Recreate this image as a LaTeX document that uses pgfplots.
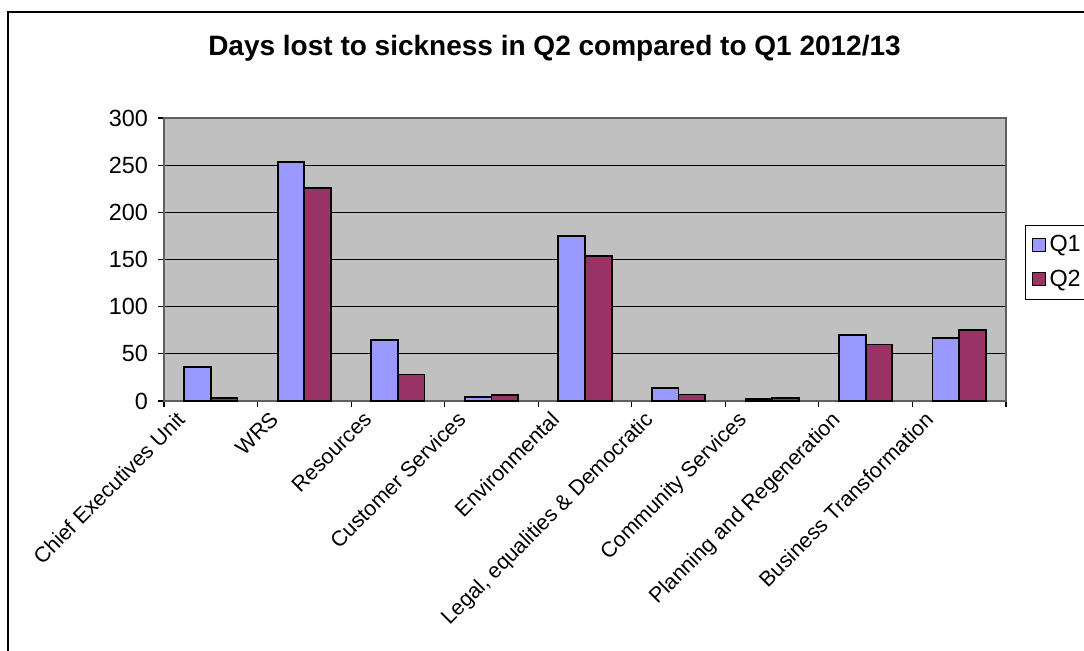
\documentclass[border=0pt]{standalone}
\usepackage{fontspec}
\setmainfont{Liberation Sans}
\usepackage{pgfplots}
\pgfplotsset{compat=1.18}
\definecolor{qone}{HTML}{9999FF}
\definecolor{qtwo}{HTML}{993366}
\definecolor{plotbg}{HTML}{C0C0C0}
\definecolor{axisgray}{HTML}{606060}

\begin{document}
\begin{tikzpicture}
\useasboundingbox (-82pt,-124.5pt) rectangle (460pt,200.5pt);
% chart frame
\draw[black, line width=0.7pt] (-78pt,-130pt) -- (-78pt,194.5pt) -- (470pt,194.5pt);
\begin{axis}[
  at={(0,0)}, anchor=south west,
  scale only axis, width=421pt, height=141.5pt,
  ybar=0pt, bar width=13.35pt,
  xmin=-0.5, xmax=8.5, ymin=0, ymax=300,
  ytick={0,50,...,300},
  ymajorgrids, grid style={black, line width=0.6pt},
  axis background/.style={fill=plotbg},
  axis line style={draw=axisgray, line width=0.7pt},
  tick align=outside, xtick pos=bottom, ytick pos=left,
  major tick length=3pt, minor tick length=3pt,
  tick style={black, line width=0.6pt},
  xtick={-0.38,0.62,1.62,2.62,3.62,4.62,5.62,6.62,7.62},
  major x tick style={draw=none},
  minor xtick={-0.5,0.5,...,8.5},
  xticklabels={Chief Executives Unit, WRS, Resources, Customer Services, Environmental, {Legal, equalities \& Democratic}, Community Services, Planning and Regeneration, Business Transformation},
  xticklabel style={rotate=45, anchor=north east, inner sep=1pt, font=\fontsize{10.7}{13}\selectfont},
  yticklabel style={xshift=-1.5pt, font=\fontsize{11.7}{13}\selectfont},
  /pgf/number format/assume math mode=true,
  title={Days lost to sickness in Q2 compared to Q1 2012/13},
  title style={at={(0.4638,1.205)}, anchor=center, font=\bfseries\fontsize{14}{16}\selectfont},
  legend style={at={(1.0226,0.622)}, anchor=north west, draw=black, line width=0.5pt,
    fill=white, font=\fontsize{11.7}{13}\selectfont, inner sep=3pt, row sep=3.5pt},
  legend cell align=left,
  legend image code/.code={\draw[#1, line width=0.5pt] (0pt,-3pt) rectangle (6.5pt,3.5pt);},
]
\addplot[fill=qone, draw=black, line width=0.9pt] coordinates {
  (0,36) (1,253) (2,65) (3,4) (4,175) (5,14) (6,2) (7,70) (8,67)};
\addplot[fill=qtwo, draw=black, line width=0.9pt] coordinates {
  (0,3) (1,226) (2,28) (3,6) (4,154) (5,7) (6,3) (7,60) (8,75)};
\legend{Q1,Q2}
\end{axis}
\end{tikzpicture}
\end{document}
